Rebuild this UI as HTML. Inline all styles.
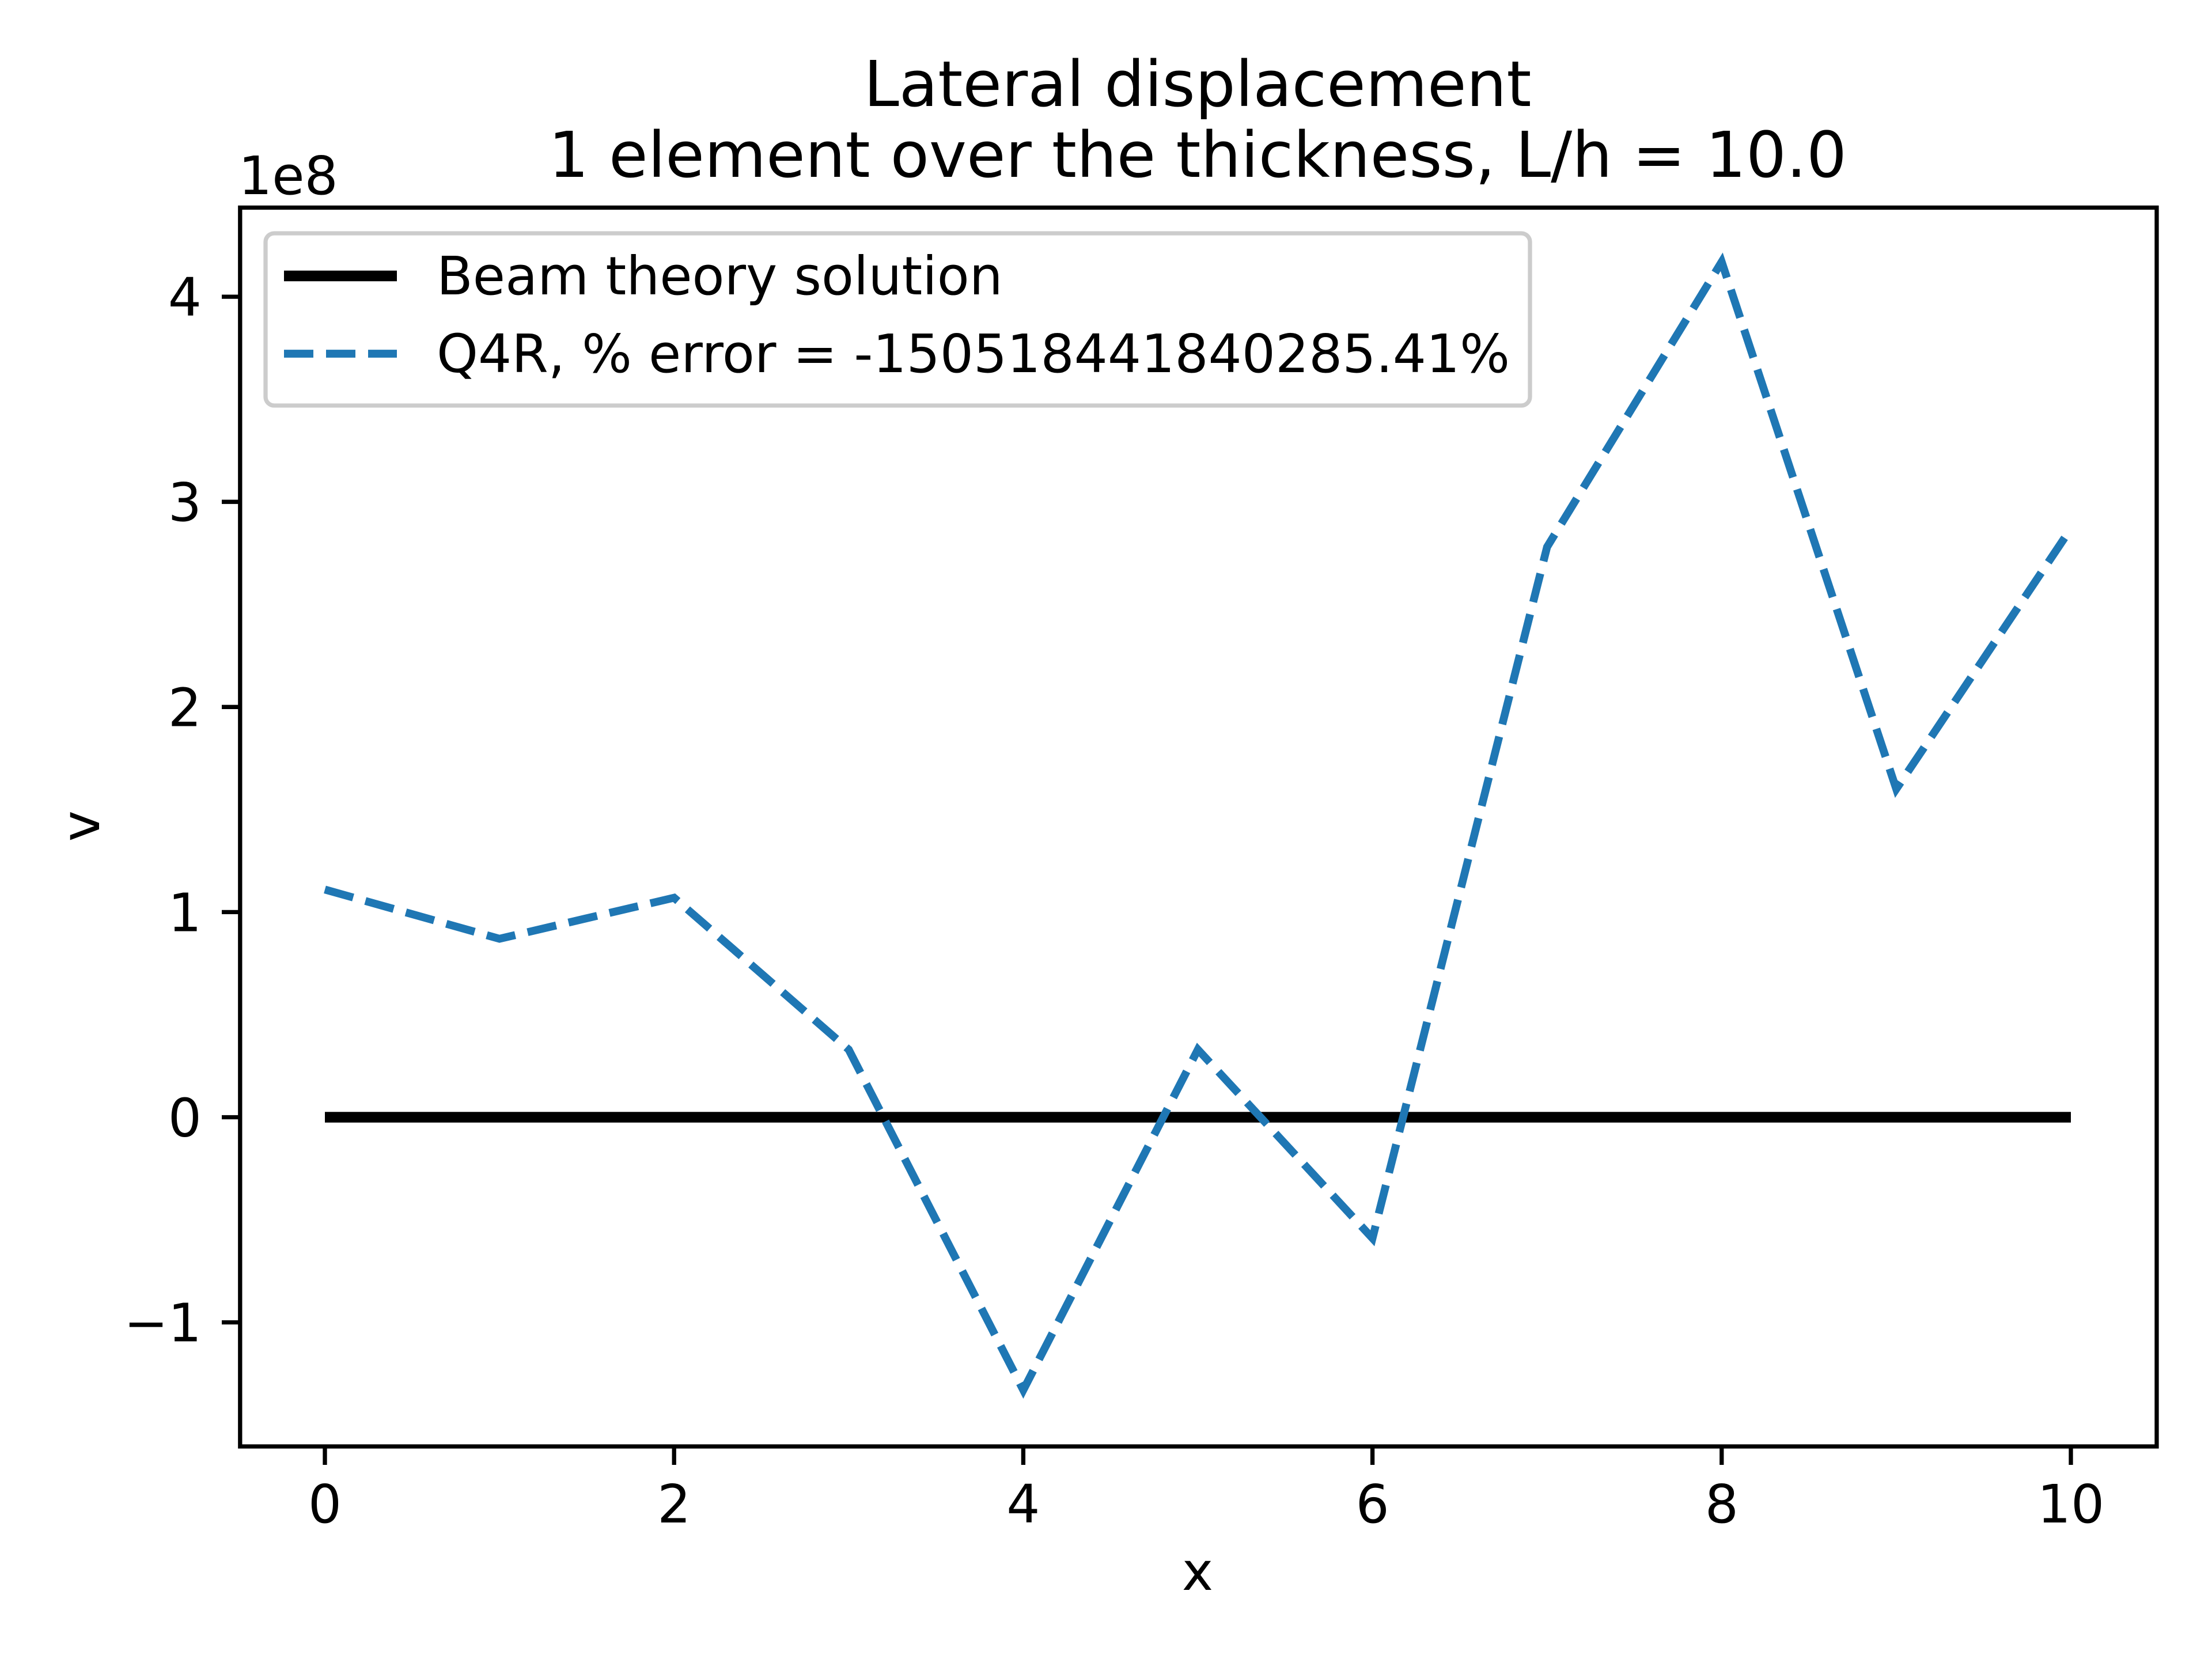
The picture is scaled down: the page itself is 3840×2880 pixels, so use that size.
<!DOCTYPE html>
<html><head><meta charset="utf-8"><style>html,body{margin:0;padding:0;background:#fff}svg{display:block}text{font-family:"DejaVu Sans","Liberation Sans",sans-serif;fill:#000}</style></head>
<body>
<svg id="chart" width="3840" height="2880" viewBox="0 0 3840 2880" xmlns="http://www.w3.org/2000/svg">
<rect width="3840" height="2880" fill="#fff"/>
<text x="2079" y="184" font-size="110" text-anchor="middle">Lateral displacement</text>
<text x="2079" y="307" font-size="110" text-anchor="middle">1 element over the thickness, L/h = 10.0</text>
<text x="414" y="337" font-size="91.5">1e8</text>
<text x="2079" y="2760" font-size="91.5" text-anchor="middle">x</text>
<text x="0" y="0" font-size="91.5" text-anchor="middle" transform="translate(172,1434) rotate(-90)">v</text>
<g id="ticks"></g>
<g id="plot"></g>
<rect x="416.8" y="360.4" width="3327.2" height="2150.6" fill="none" stroke="#000" stroke-width="7.3"/>
<g>
<rect x="461" y="405" width="2195" height="299" rx="15" fill="#fff" fill-opacity="0.8" stroke="#ccc" stroke-width="7.3"/>
<line x1="493" y1="479" x2="689" y2="479" stroke="#000" stroke-width="18.5"/>
<text x="758" y="511" font-size="91.5">Beam theory solution</text>
<line x1="493" y1="614" x2="689" y2="614" stroke="#1f77b4" stroke-width="13.7" stroke-dasharray="51 22"/>
<text x="758" y="646" font-size="91.5">Q4R, % error = -150518441840285.41%</text>
</g>
</svg>
<script>
const xValues=[0,1,2,3,4,5,6,7,8,9,10];
const beamValues=[0,0,0,0,0,0,0,0,0,0,0];
const q4rValues=[1.11,0.87,1.07,0.33,-1.33,0.33,-0.59,2.78,4.17,1.60,2.87];
const xTicks=[0,2,4,6,8,10];
const yTicks=[-1,0,1,2,3,4];
const yTickLabels=["\u22121","0","1","2","3","4"];
const NS="http://www.w3.org/2000/svg";
function sx(v){return 564+v*303.1;}
function sy(v){return 1939.5-v*356.1;}
function mk(t,a,p){const e=document.createElementNS(NS,t);for(const k in a)e.setAttribute(k,a[k]);p.appendChild(e);return e;}
const T=document.getElementById('ticks'),P=document.getElementById('plot');
xTicks.forEach(v=>{const l=mk('line',{x1:sx(v),x2:sx(v),y1:2511,y2:2543,stroke:'#000','stroke-width':7.3},T);


const t=mk('text',{x:sx(v),y:2643,'font-size':91.5,'text-anchor':'middle'},T);t.textContent=v;

});
yTicks.forEach((v,i)=>{const l=mk('line',{x1:385,x2:416.8,y1:sy(v),y2:sy(v),stroke:'#000','stroke-width':7.3},T);


const t=mk('text',{x:350,y:sy(v)+33,'font-size':91.5,'text-anchor':'end'},T);t.textContent=yTickLabels[i];

});
const b=mk('polyline',{points:xValues.map((x,i)=>sx(x)+','+sy(beamValues[i])).join(' '),fill:'none',stroke:'#000','stroke-width':18.5},P);


const q=mk('polyline',{points:xValues.map((x,i)=>sx(x)+','+sy(q4rValues[i])).join(' '),fill:'none',stroke:'#1f77b4','stroke-width':13.7,'stroke-dasharray':'51 22'},P);


</script>
</body></html>
